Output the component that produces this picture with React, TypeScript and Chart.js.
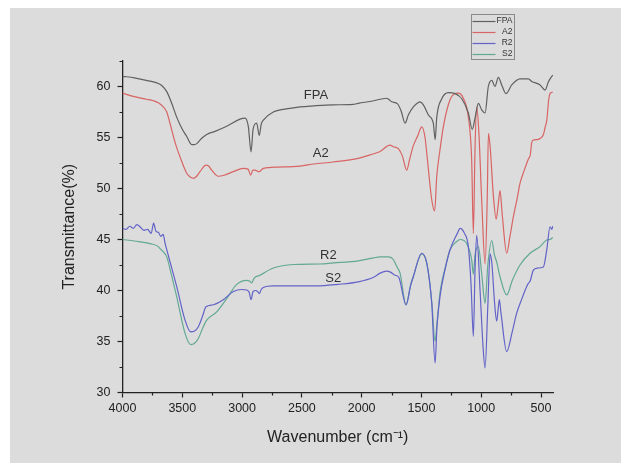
import { useEffect, useRef } from 'react';
import { Chart, registerables } from 'chart.js';

Chart.register(...registerables);

// ---- data (wavenumber in cm-1, transmittance in %) ----
const seriesNames = ['FPA', 'A2', 'R2', 'S2'];
const seriesColors = ['#606060', '#d86464', '#6262c8', '#62a894'];

const fpaWave = [4000, 3900, 3800, 3742, 3700, 3672, 3630, 3590, 3547, 3500, 3463, 3421, 3400, 3379, 3340, 3296, 3226, 3129, 3017, 2975, 2948, 2925, 2908, 2878, 2856, 2840, 2822, 2739, 2600, 2516, 2400, 2239, 2072, 2028, 1900, 1846, 1790, 1770, 1749, 1700, 1670, 1637, 1610, 1568, 1530, 1512, 1484, 1442, 1401, 1385, 1372, 1330, 1275, 1219, 1163, 1108, 1075, 1052, 1024, 996, 968, 941, 912, 885, 857, 829, 793, 745, 676, 606, 578, 508, 466, 439, 410, 400];
const fpaT = [61.0, 60.85, 60.6, 60.45, 60.3, 60.1, 59.5, 58.4, 57.0, 55.8, 55.1, 54.3, 54.3, 54.4, 54.9, 55.3, 55.6, 56.1, 56.8, 56.9, 56.1, 53.6, 55.8, 56.4, 55.2, 56.3, 56.7, 57.5, 57.85, 58.0, 58.1, 58.2, 58.25, 58.35, 58.6, 58.75, 58.85, 58.7, 58.5, 58.3, 57.6, 56.4, 57.2, 58.0, 58.4, 58.5, 58.2, 57.2, 56.4, 54.8, 57.0, 58.8, 59.4, 59.3, 58.8, 57.4, 55.8, 56.9, 58.35, 57.7, 57.4, 60.0, 60.6, 60.0, 60.9, 60.15, 59.3, 60.15, 60.75, 60.75, 60.5, 60.15, 59.65, 60.45, 61.0, 61.1];

const a2Wave = [4000, 3900, 3800, 3742, 3700, 3659, 3630, 3603, 3560, 3519, 3463, 3430, 3408, 3380, 3352, 3302, 3280, 3254, 3199, 3150, 3073, 2990, 2950, 2928, 2910, 2892, 2856, 2822, 2700, 2516, 2400, 2237, 2028, 1930, 1850, 1763, 1735, 1693, 1660, 1623, 1600, 1568, 1530, 1498, 1470, 1456, 1414, 1390, 1372, 1345, 1317, 1261, 1192, 1150, 1108, 1080, 1066, 1052, 1038, 1020, 995, 968, 950, 940, 925, 900, 875, 860, 843, 825, 787, 760, 732, 700, 676, 640, 606, 590, 578, 564, 530, 508, 480, 466, 452, 435, 425, 403];
const a2T = [59.35, 59.0, 58.75, 58.6, 58.4, 58.0, 57.5, 56.4, 54.5, 53.1, 51.5, 51.1, 51.0, 51.2, 51.65, 52.3, 52.2, 51.8, 51.2, 51.3, 51.65, 51.98, 51.9, 51.3, 51.8, 51.8, 51.65, 51.98, 52.1, 52.2, 52.4, 52.6, 52.96, 53.3, 53.6, 54.25, 54.1, 53.9, 53.2, 51.8, 52.8, 54.2, 55.2, 56.05, 55.0, 53.5, 48.9, 47.8, 51.2, 53.8, 56.05, 58.7, 59.35, 58.85, 57.0, 52.8, 45.6, 54.0, 58.0, 55.5, 48.5, 42.6, 49.0, 55.4, 54.0, 49.5, 47.0, 48.2, 49.8, 47.5, 43.65, 45.3, 47.2, 49.0, 50.5, 51.8, 52.9, 53.3, 54.5, 54.75, 54.8, 54.9, 55.3, 56.0, 56.7, 58.8, 59.3, 59.45];

const r2Wave = [4000, 3970, 3940, 3910, 3880, 3850, 3820, 3790, 3760, 3740, 3720, 3700, 3680, 3660, 3645, 3630, 3600, 3547, 3477, 3430, 3400, 3366, 3330, 3302, 3240, 3157, 3073, 3003, 2961, 2940, 2925, 2908, 2885, 2870, 2856, 2840, 2822, 2739, 2600, 2376, 2200, 2028, 1900, 1846, 1790, 1760, 1720, 1690, 1629, 1590, 1568, 1498, 1456, 1414, 1386, 1370, 1345, 1300, 1261, 1200, 1177, 1140, 1108, 1085, 1066, 1052, 1038, 1010, 985, 968, 945, 926, 910, 890, 871, 860, 849, 835, 787, 740, 703, 660, 620, 606, 592, 564, 530, 481, 452, 425, 410, 402];
const r2T = [46.1, 46.0, 46.3, 46.1, 46.45, 46.2, 45.9, 46.0, 45.6, 46.6, 45.8, 45.7, 45.3, 45.5, 44.7, 44.0, 42.7, 40.4, 37.1, 35.95, 36.0, 36.45, 37.5, 38.4, 38.6, 39.1, 39.9, 40.1, 40.05, 39.8, 39.1, 39.9, 40.0, 39.9, 39.7, 40.1, 40.3, 40.45, 40.45, 40.45, 40.6, 40.85, 41.3, 41.7, 41.9, 41.8, 41.5, 41.3, 38.6, 40.5, 41.35, 43.65, 42.7, 38.75, 32.9, 36.5, 39.4, 42.2, 44.0, 45.6, 46.1, 45.6, 44.3, 40.5, 35.5, 42.0, 45.4, 40.0, 34.5, 32.4, 38.5, 43.6, 42.5, 39.0, 37.0, 38.0, 39.1, 37.8, 34.0, 36.0, 37.8, 39.2, 40.4, 40.7, 40.9, 42.0, 42.2, 42.3, 44.0, 46.25, 46.0, 46.3];

const s2Wave = [4000, 3900, 3770, 3700, 3686, 3660, 3630, 3590, 3547, 3477, 3430, 3400, 3366, 3330, 3296, 3212, 3129, 3045, 2961, 2935, 2920, 2900, 2850, 2739, 2572, 2348, 2237, 2028, 1900, 1846, 1777, 1740, 1700, 1679, 1629, 1590, 1568, 1498, 1456, 1414, 1386, 1370, 1345, 1300, 1261, 1205, 1177, 1122, 1080, 1066, 1052, 1024, 995, 968, 945, 912, 890, 871, 843, 787, 740, 676, 592, 508, 452, 425, 402];
const s2T = [45.0, 44.85, 44.6, 44.3, 44.1, 43.8, 43.3, 41.5, 39.4, 35.8, 34.7, 34.8, 35.3, 36.3, 37.1, 37.9, 39.2, 40.6, 41.0, 40.9, 40.75, 41.2, 41.5, 42.2, 42.55, 42.6, 42.7, 42.9, 43.2, 43.3, 43.3, 43.1, 42.2, 41.7, 38.6, 40.6, 41.4, 43.6, 42.7, 38.9, 35.0, 36.8, 39.8, 42.3, 44.0, 44.8, 45.0, 44.6, 43.0, 41.6, 43.5, 44.3, 41.5, 38.75, 42.5, 44.9, 43.5, 42.8, 41.35, 39.56, 41.0, 42.5, 43.65, 44.3, 44.95, 45.0, 45.2];

const xTickLabels = [4000, 3500, 3000, 2500, 2000, 1500, 1000, 500];
const xMinorTicks = [3750, 3250, 2750, 2250, 1750, 1250, 750];
const yTickLabels = [30, 35, 40, 45, 50, 55, 60];
const yMinorTicks = [32.5, 37.5, 42.5, 47.5, 52.5, 57.5, 62.5];

// curve label anchors (data coordinates)
const curveLabelText = ['FPA', 'A2', 'R2', 'S2'];
const curveLabelWave = [2382, 2342, 2279, 2237];
const curveLabelT = [59.17, 53.48, 43.48, 41.2];

const FONT = '"Liberation Sans", Arial, sans-serif';
const INK = '#222222';

const decorPlugin = {
  id: 'decor',
  afterDraw(chart: any) {
    const { ctx, chartArea, scales } = chart;
    const xs = scales.x;
    const ys = scales.y;
    ctx.save();
    // minor ticks
    ctx.strokeStyle = INK;
    ctx.lineWidth = 1.2;
    ctx.beginPath();
    xMinorTicks.forEach((v) => {
      const p = Math.round(xs.getPixelForValue(v)) + 0.5;
      ctx.moveTo(p, chartArea.bottom);
      ctx.lineTo(p, chartArea.bottom + 3);
    });
    yMinorTicks.forEach((v) => {
      const p = Math.round(ys.getPixelForValue(v)) + 0.5;
      ctx.moveTo(chartArea.left, p);
      ctx.lineTo(chartArea.left - 3, p);
    });
    ctx.stroke();

    // curve labels
    ctx.fillStyle = '#333333';
    ctx.font = `13px ${FONT}`;
    ctx.textAlign = 'center';
    ctx.textBaseline = 'middle';
    curveLabelText.forEach((t, i) => {
      ctx.fillText(t, xs.getPixelForValue(curveLabelWave[i]), ys.getPixelForValue(curveLabelT[i]));
    });

    // legend box
    const bx = 461.5, by = 6.5, bw = 43, bh = 45;
    ctx.strokeStyle = '#8a8a8a';
    ctx.lineWidth = 1;
    ctx.strokeRect(bx, by, bw, bh);
    ctx.font = `8.5px ${FONT}`;
    ctx.textAlign = 'right';
    ctx.textBaseline = 'middle';
    chart.data.datasets.forEach((ds: any, i: number) => {
      const yy = by + 6.5 + i * 10.9;
      ctx.strokeStyle = ds.borderColor;
      ctx.lineWidth = 1.2;
      ctx.beginPath();
      ctx.moveTo(bx + 1, Math.round(yy) + 0.5);
      ctx.lineTo(bx + 24, Math.round(yy) + 0.5);
      ctx.stroke();
      ctx.fillStyle = '#333333';
      ctx.fillText(ds.label, bx + bw - 2, yy);
    });
    ctx.restore();
  },
};

export default function App() {
  const canvasRef = useRef<HTMLCanvasElement | null>(null);

  useEffect(() => {
    const canvas = canvasRef.current;
    if (!canvas) return;
    const waves = [fpaWave, a2Wave, r2Wave, s2Wave];
    const vals = [fpaT, a2T, r2T, s2T];
    const chart = new Chart(canvas, {
      type: 'line',
      data: {
        datasets: seriesNames.map((name, i) => ({
          label: name,
          data: waves[i].map((w, j) => ({ x: w, y: vals[i][j] })),
          borderColor: seriesColors[i],
          backgroundColor: seriesColors[i],
          borderWidth: 1.2,
          pointRadius: 0,
          cubicInterpolationMode: 'monotone' as const,
          fill: false,
        })),
      },
      options: {
        animation: false,
        responsive: false,
        devicePixelRatio: 1,
        layout: { padding: { left: 12.5, right: 68, top: 53, bottom: 8.5 } },
        plugins: { legend: { display: false }, tooltip: { enabled: false } },
        scales: {
          x: {
            type: 'linear',
            reverse: true,
            min: 400,
            max: 4000,
            afterBuildTicks: (s: any) => {
              s.ticks = xTickLabels.map((v) => ({ value: v }));
            },
            afterFit: (s: any) => {
              s.height = 62;
            },
            ticks: {
              autoSkip: false,
              maxRotation: 0,
              padding: 4,
              color: INK,
              font: { family: FONT, size: 12.5 },
              callback: (v: any) => String(v),
            },
            grid: { display: true, drawOnChartArea: false, drawTicks: true, tickLength: 5, tickColor: INK, tickWidth: 1.2 },
            border: { display: true, color: INK, width: 1.3 },
            title: {
              display: true,
              text: 'Wavenumber (cm⁻¹)',
              color: INK,
              font: { family: FONT, size: 16 },
              padding: { top: 0, bottom: 7.6 },
            },
          },
          y: {
            type: 'linear',
            min: 30,
            max: 62.5,
            afterBuildTicks: (s: any) => {
              s.ticks = yTickLabels.map((v) => ({ value: v }));
            },
            afterFit: (s: any) => {
              s.width = 100;
            },
            ticks: {
              padding: 7,
              color: INK,
              font: { family: FONT, size: 12.5 },
              callback: (v: any) => String(v),
            },
            grid: { display: true, drawOnChartArea: false, drawTicks: true, tickLength: 5, tickColor: INK, tickWidth: 1.2 },
            border: { display: true, color: INK, width: 1.3 },
            title: {
              display: true,
              text: 'Transmittance(%)',
              color: INK,
              font: { family: FONT, size: 16 },
              padding: { top: 37, bottom: 0 },
            },
          },
        },
      },
      plugins: [decorPlugin],
    });
    return () => chart.destroy();
  }, []);

  return (
    <div style={{ position: 'fixed', left: 10, top: 8, width: 611, height: 455, background: '#dcdcdc' }}>
      <canvas ref={canvasRef} width={611} height={455} style={{ display: 'block' }} />
    </div>
  );
}
